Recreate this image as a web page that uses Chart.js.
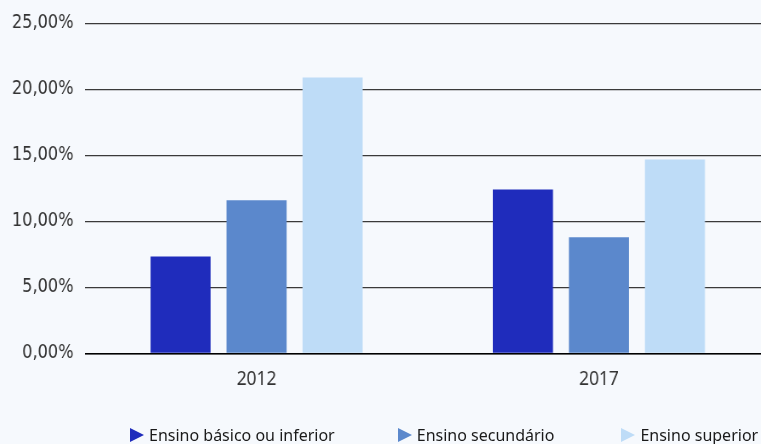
<!DOCTYPE html>
<html lang="pt">
<head>
<meta charset="UTF-8">
<title>Ensino</title>
<script src="https://cdn.jsdelivr.net/npm/chart.js"></script>
<style>
  * { margin: 0; padding: 0; box-sizing: border-box; }
  html, body { width: 761px; height: 444px; overflow: hidden; background: #f6f9fd; position: relative; }
  /* the plot is drawn wide and squeezed horizontally to get the narrow axis lettering */
  #wrap { position: absolute; left: 0; top: 0; width: 907px; height: 444px; transform: scaleX(0.85); transform-origin: 0 0; }
  #legend { position: absolute; left: 130px; top: 425px; display: flex;
            font-family: 'Noto Sans', sans-serif; font-size: 16px; line-height: 20px; color: #1a1a1a; white-space: nowrap; }
  #legend .item { display: flex; align-items: flex-start; }
  #legend .item:nth-child(2) { margin-left: 63px; }
  #legend .item:nth-child(3) { margin-left: 67px; }
  #legend .mark { width: 0; height: 0; margin-top: 3px; margin-right: 5px;
                  border-top: 7.5px solid transparent; border-bottom: 7.5px solid transparent; border-left: 14px solid; }
</style>
</head>
<body>
<div id="wrap"><canvas id="chart" width="907" height="444"></canvas></div>
<div id="legend"></div>
<script>
const years = ['2012', '2017'];
const basico = [7.35, 12.42];
const secundario = [11.6, 8.8];
const superior = [20.9, 14.7];
const yTicks = [0, 5, 10, 15, 20, 25];

const colors = ['#1f2cbc', '#5b88cc', '#bedcf7'];

const chart = new Chart(document.getElementById('chart'), {
  type: 'bar',
  data: {
    labels: years,
    datasets: [
      { label: 'Ensino básico ou inferior', data: basico, backgroundColor: colors[0] },
      { label: 'Ensino secundário', data: secundario, backgroundColor: colors[1] },
      { label: 'Ensino superior', data: superior, backgroundColor: colors[2] }
    ]
  },
  options: {
    responsive: false,
    animation: false,
    categoryPercentage: 0.666,
    barPercentage: 0.79,
    layout: { padding: { top: 23, left: 0, right: 1, bottom: 48 } },
    plugins: {
      tooltip: { enabled: false },
      legend: { display: false }
    },
    scales: {
      x: {
        grid: { display: false },
        border: { color: '#000', width: 1.5 },
        ticks: { color: '#333', padding: 5, font: { family: 'Noto Sans', size: 20.5 } }
      },
      y: {
        min: 0,
        max: 25,
        afterBuildTicks(axis) { axis.ticks = yTicks.map(v => ({ value: v })); },
        border: { display: false },
        grid: { color: '#3a3a3a', lineWidth: 1.2, drawTicks: false },
        ticks: {
          color: '#333',
          padding: 14,
          font: { family: 'DejaVu Sans', size: 19, lineHeight: 1 },
          callback: v => v.toFixed(2).replace('.', ',') + '%'
        }
      }
    }
  }
});

// legend built from the datasets
const legend = document.getElementById('legend');
chart.data.datasets.forEach(ds => {
  const item = document.createElement('div');
  item.className = 'item';
  const mark = document.createElement('span');
  mark.className = 'mark';
  mark.style.borderLeftColor = ds.backgroundColor;
  const text = document.createElement('span');
  text.textContent = ds.label;
  item.append(mark, text);
  legend.appendChild(item);
});
</script>
</body>
</html>
